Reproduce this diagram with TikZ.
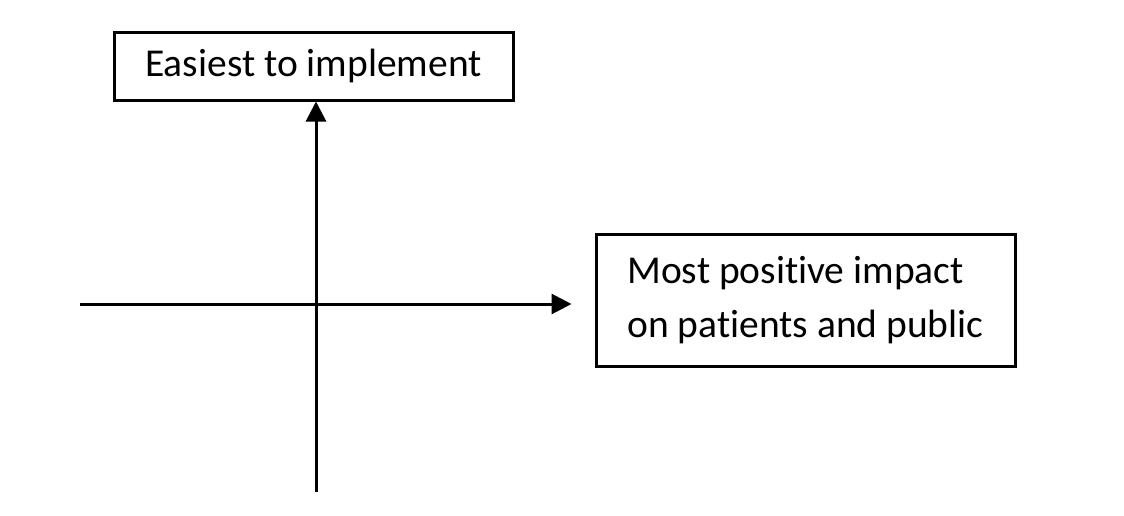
\documentclass[tikz,border=0pt]{standalone}
\usepackage{fontspec}
\setmainfont[Ligatures=NoCommon]{Carlito}
\usetikzlibrary{arrows.meta}

\tikzset{
    labelbox/.style={draw, line width=3pt, font=\fontsize{39.5}{54}\selectfont, align=left, inner sep=0pt},
    axis/.style={line width=3pt, -{Triangle[length=20pt,width=20pt]}}
}

\begin{document}
\begin{tikzpicture}[x=1pt,y=-1pt]
    \useasboundingbox (0,0) rectangle (1124,515);

    % Boxes at the ends of the axes
    \node[labelbox, minimum width=399pt, minimum height=68pt] (easiest) at (313.5,66) {Easiest to implement};
    \node[labelbox, minimum width=419pt, minimum height=132pt] (impact) at (805.5,300) {Most positive impact\\on patients and public};

    % Free ends of the axes
    \coordinate (origin) at (316,304);
    \coordinate (leftend) at (80,304);
    \coordinate (bottomend) at (316,492);

    % Axes
    \draw[axis] (bottomend) -- (easiest.south -| origin);
    \draw[axis, shorten >=23pt] (leftend) -- (impact.west |- origin);
\end{tikzpicture}
\end{document}
